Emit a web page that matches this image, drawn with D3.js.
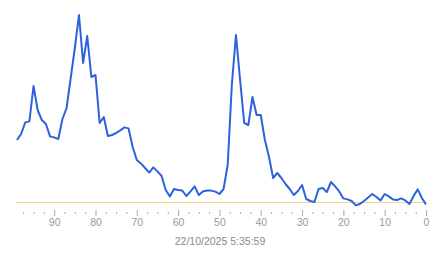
<!DOCTYPE html>
<html>
<head>
<meta charset="utf-8">
<script src="https://cdn.jsdelivr.net/npm/d3@7"></script>
<style>
html,body{margin:0;padding:0;background:#fff;}
svg{display:block;}
</style>
</head>
<body>
<svg id="chart" width="443" height="258"></svg>
<script>
// x positions (samples ago), from 99 down to 0
const ages = d3.range(99, -1, -1);
const values = [
  35, 38, 43.8, 44.3, 62, 50, 45, 43, 36.8, 36.3,
  35.5, 45.5, 51, 66, 81, 97.5, 73.5, 87, 66.5, 67.5,
  43.5, 46.5, 37, 37.5, 38.5, 39.8, 41.3, 40.8, 31.5, 25,
  23.3, 21, 18.7, 21.3, 19.3, 17, 10, 6.8, 10.5, 10,
  9.7, 7, 9.3, 11.8, 7.5, 9.3, 9.7, 9.7, 9.2, 8,
  10.5, 22.5, 62.5, 87.5, 65, 43.5, 42.5, 56.5, 47.5, 47.5,
  35, 26.5, 16, 18.5, 16, 13, 10.5, 7.5, 9.5, 12.5,
  5.5, 4.5, 4, 10.5, 11, 9, 14, 11.8, 9.3, 5.8,
  5.3, 4.5, 2.3, 3, 4.5, 6.3, 8, 6.5, 4.8, 8,
  6.8, 5.3, 5, 5.8, 4.8, 3, 7, 10.3, 6, 2.8
];
const threshold = 4;
const majorTicks = [90, 80, 70, 60, 50, 40, 30, 20, 10, 0];
const minorTicks = d3.range(97.5, -0.1, -2.5).filter(t => t % 10 !== 0);
const timestampLabel = "22/10/2025 5:35:59";

const svg = d3.select("#chart");
const x = d3.scaleLinear().domain([99, 0]).range([17, 426]);
const y = d3.scaleLinear().domain([0, 100]).range([210, 10]);

// threshold line
svg.append("line")
  .attr("x1", x(99) - 1).attr("x2", x(0))
  .attr("y1", Math.round(y(threshold)) + 0.5).attr("y2", Math.round(y(threshold)) + 0.5)
  .attr("stroke", "#f2d68c").attr("stroke-width", 1);

// minor ticks
const minorAxis = d3.axisBottom(x).tickValues(minorTicks).tickSize(2).tickFormat("");
svg.append("g").attr("transform", "translate(0,212)").call(minorAxis)
  .call(g => g.select(".domain").remove())
  .call(g => g.selectAll(".tick line").attr("stroke", "#aaa"));

// major ticks
const majorAxis = d3.axisBottom(x).tickValues(majorTicks).tickSize(6).tickPadding(3).tickFormat(d3.format("d"));
svg.append("g").attr("transform", "translate(0,210)").call(majorAxis)
  .call(g => g.select(".domain").remove())
  .call(g => g.selectAll(".tick line").attr("stroke", "#aaa"))
  .call(g => g.selectAll(".tick text")
    .attr("fill", "#999")
    .attr("font-family", "Liberation Sans, Arial, sans-serif")
    .attr("font-size", 10.5));

// timestamp label
svg.append("text")
  .attr("x", 220).attr("y", 244.5)
  .attr("text-anchor", "middle")
  .attr("fill", "#8a8a8a")
  .attr("font-family", "Liberation Sans, Arial, sans-serif")
  .attr("font-size", 10.5)
  .text(timestampLabel);

// data line
const line = d3.line().x((d, i) => x(ages[i])).y(d => y(d));
svg.append("path")
  .datum(values)
  .attr("fill", "none")
  .attr("stroke", "#2c62dc")
  .attr("stroke-width", 2)
  .attr("stroke-linejoin", "round")
  .attr("d", line);
</script>
</body>
</html>
